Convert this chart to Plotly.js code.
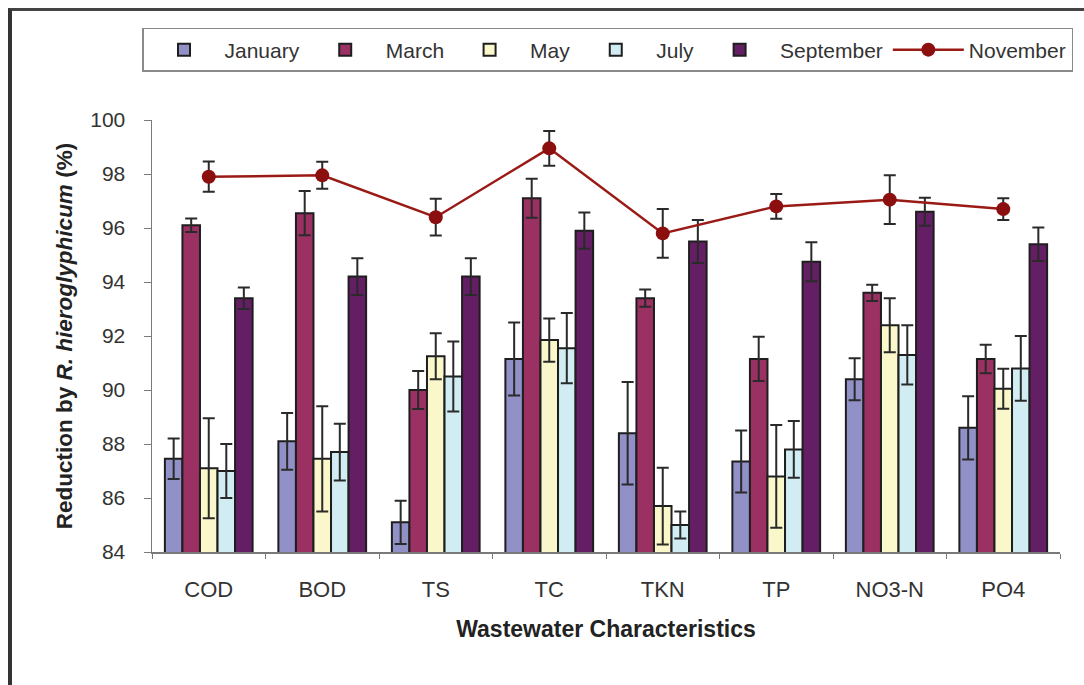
<!DOCTYPE html>
<html>
<head>
<meta charset="utf-8">
<script src="https://cdn.plot.ly/plotly-3.0.1.min.js"></script>
<style>
  html, body { margin: 0; padding: 0; background: #fff; }
  #wrap { position: relative; width: 1084px; height: 685px; overflow: hidden; }
  #chart { position: absolute; left: 0; top: 0; width: 1084px; height: 685px; }
  #frame { position: absolute; left: 8px; top: 8px; width: 1100px; height: 700px;
           border-left: 4px solid #333; border-top: 3px solid #444; pointer-events: none; }
</style>
</head>
<body>
<div id="wrap">
  <div id="chart"></div>
  <div id="frame"></div>
</div>
<script>
const categories = ['COD', 'BOD', 'TS', 'TC', 'TKN', 'TP', 'NO3-N', 'PO4'];

const january      = [87.45, 88.10, 85.10, 91.15, 88.40, 87.35, 90.40, 88.60];
const januaryErr   = [0.75, 1.05, 0.80, 1.35, 1.90, 1.15, 0.78, 1.17];
const march        = [96.10, 96.55, 90.00, 97.10, 93.40, 91.15, 93.60, 91.15];
const marchErr     = [0.25, 0.82, 0.70, 0.72, 0.32, 0.82, 0.30, 0.53];
const may          = [87.10, 87.45, 91.25, 91.85, 85.70, 86.80, 92.40, 90.05];
const mayErr       = [1.85, 1.95, 0.85, 0.80, 1.42, 1.90, 1.00, 0.74];
const july         = [87.00, 87.70, 90.50, 91.55, 85.00, 87.80, 91.30, 90.80];
const julyErr      = [1.00, 1.05, 1.30, 1.30, 0.50, 1.05, 1.10, 1.20];
const september    = [93.40, 94.20, 94.20, 95.90, 95.50, 94.75, 96.60, 95.40];
const septemberErr = [0.40, 0.68, 0.68, 0.67, 0.80, 0.72, 0.52, 0.62];
const november     = [97.90, 97.95, 96.40, 98.95, 95.80, 96.80, 97.05, 96.70];
const novemberErr  = [0.56, 0.50, 0.68, 0.64, 0.90, 0.46, 0.90, 0.40];

const seriesNames = ['January', 'March', 'May', 'July', 'September'];
const seriesVals  = [january, march, may, july, september];
const seriesErrs  = [januaryErr, marchErr, mayErr, julyErr, septemberErr];
const seriesCols  = ['#9191c8', '#9b3163', '#faf8cb', '#d2ecf3', '#641e64'];

const FONT = 'Arial, "Liberation Sans", sans-serif';

const traces = seriesNames.map((n, i) => ({
  type: 'bar',
  name: n,
  x: categories,
  y: seriesVals[i],
  marker: { color: seriesCols[i], line: { color: '#1e1e1e', width: 2 } },
  error_y: { type: 'data', array: seriesErrs[i], visible: true, color: '#2a2a2a', thickness: 2, width: 6 }
}));

traces.push({
  type: 'scatter',
  mode: 'lines+markers',
  name: 'November',
  x: categories,
  y: november,
  line: { color: '#9a1a16', width: 2.5 },
  marker: { color: '#8c0f0f', size: 14 },
  error_y: { type: 'data', array: novemberErr, visible: true, color: '#2a2a2a', thickness: 2, width: 6 }
});

const layout = {
  width: 1084,
  height: 685,
  margin: { l: 152, r: 24, t: 120, b: 133.3 },
  paper_bgcolor: 'rgba(0,0,0,0)',
  plot_bgcolor: '#ffffff',
  font: { family: FONT, color: '#333333', size: 20 },
  barmode: 'group',
  bargap: 0.227,
  bargroupgap: 0,
  showlegend: true,
  legend: {
    orientation: 'h',
    x: -0.011, xanchor: 'left',
    y: 1.213, yanchor: 'top',
    bgcolor: '#ffffff',
    bordercolor: '#8a8a8a',
    borderwidth: 1.5,
    itemwidth: 71,
    font: { family: FONT, size: 21, color: '#333333' },
    traceorder: 'normal'
  },
  xaxis: {
    type: 'category',
    showline: true,
    linecolor: '#7a7a7a',
    linewidth: 1.5,
    ticks: 'outside',
    tickson: 'boundaries',
    ticklen: 5,
    tickcolor: '#7a7a7a',
    ticklabelstandoff: 17,
    showgrid: false,
    zeroline: false,
    tickfont: { family: FONT, size: 22, color: '#333333' },
    title: {
      text: 'Wastewater Characteristics',
      font: { family: FONT, size: 23, color: '#222222', weight: 'bold' },
      standoff: 20
    }
  },
  yaxis: {
    range: [84, 100],
    dtick: 2,
    tick0: 84,
    showline: true,
    linecolor: '#7a7a7a',
    linewidth: 1.5,
    ticks: 'outside',
    ticklen: 7,
    tickcolor: '#7a7a7a',
    ticklabelstandoff: 14,
    showgrid: false,
    zeroline: false,
    tickfont: { family: FONT, size: 21, color: '#333333' },
    title: {
      text: 'Reduction by <i>R. hieroglyphicum</i> (%)',
      font: { family: FONT, size: 22.5, color: '#222222', weight: 'bold' },
      standoff: 11
    }
  }
};

Plotly.newPlot('chart', traces, layout, { displayModeBar: false, staticPlot: true });
</script>
</body>
</html>
